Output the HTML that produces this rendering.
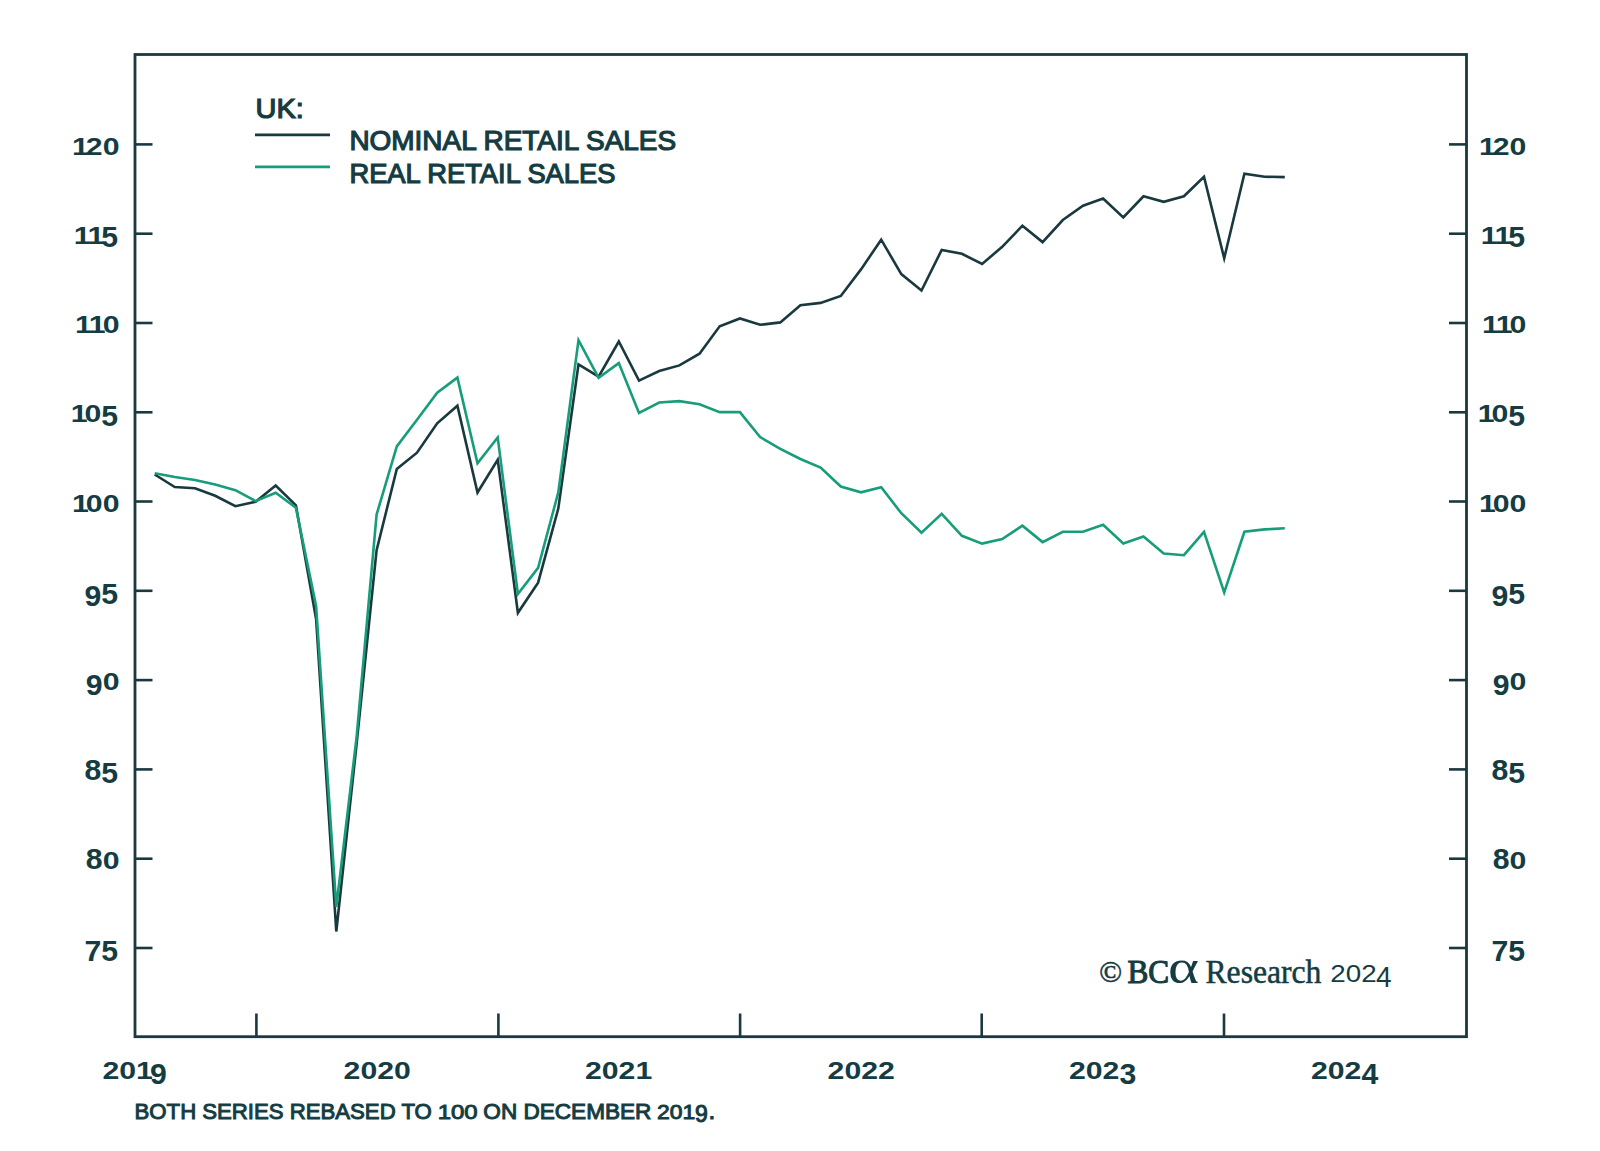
<!DOCTYPE html>
<html><head><meta charset="utf-8"><title>UK retail sales</title><style>
html,body{margin:0;padding:0;background:#fff;overflow:hidden;}
svg{display:block;}
</style></head><body>
<svg width="1600" height="1151" viewBox="0 0 1600 1151">
<text transform="matrix(0.9652 0 0 0.9500 255.57 118.05)" style="font-family:'Liberation Sans',sans-serif;font-size:30px;stroke:#143c42;stroke-width:1.3;fill:#143c42">UK:</text>
<text transform="matrix(0.9320 0 0 0.9455 349.39 149.75)" style="font-family:'Liberation Sans',sans-serif;font-size:30px;stroke:#143c42;stroke-width:1.3;fill:#143c42">NOMINAL RETAIL SALES</text>
<text transform="matrix(0.9102 0 0 0.9250 349.43 182.82)" style="font-family:'Liberation Sans',sans-serif;font-size:30px;stroke:#143c42;stroke-width:1.3;fill:#143c42">REAL RETAIL SALES</text>
<text transform="matrix(1.0078 0 0 1.0400 134.59 1119.20)" style="font-family:'Liberation Sans',sans-serif;font-size:22px;stroke:#143c42;stroke-width:1.0;fill:#143c42">BOTH SERIES REBASED TO</text>
<text transform="matrix(1.0900 0 0 0.9133 437.66 1119.20)" style="font-family:'Liberation Sans',sans-serif;font-size:22px;stroke:#143c42;stroke-width:1.0;fill:#143c42">100</text>
<text transform="matrix(1.0259 0 0 1.0400 483.37 1119.20)" style="font-family:'Liberation Sans',sans-serif;font-size:22px;stroke:#143c42;stroke-width:1.0;fill:#143c42">ON DECEMBER</text>
<text transform="matrix(1.0400 0 0 0.9133 657.06 1119.20)" style="font-family:'Liberation Sans',sans-serif;font-size:22px;stroke:#143c42;stroke-width:1.0;fill:#143c42">201</text>
<text transform="matrix(1.0455 0 0 1.0500 694.95 1121.75)" style="font-family:'Liberation Sans',sans-serif;font-size:22px;stroke:#143c42;stroke-width:1.0;fill:#143c42">9</text>
<text transform="matrix(1.1000 0 0 1.0667 708.40 1119.20)" style="font-family:'Liberation Sans',sans-serif;font-size:22px;stroke:#143c42;stroke-width:1.0;fill:#143c42">.</text>
<text transform="matrix(1.0000 0 0 1.0125 1099.25 981.50)" style="font-family:'Liberation Serif',serif;font-size:30px;stroke:#143c42;stroke-width:0.6;fill:#143c42">©</text>
<text transform="matrix(0.9750 0 0 1.0595 1127.53 982.50)" style="font-family:'Liberation Serif',serif;font-size:32px;stroke:#143c42;stroke-width:1.1;fill:#143c42">BC</text>
<text transform="matrix(1.2857 0 0 1.0714 1167.93 983.00)" style="font-family:'Liberation Serif',serif;font-size:46px;fill:#143c42">α</text>
<text transform="matrix(0.9888 0 0 1.0227 1205.51 982.70)" style="font-family:'Liberation Serif',serif;font-size:32px;stroke:#143c42;stroke-width:0.5;fill:#143c42">Research</text>
<text transform="matrix(1.1579 0 0 1.0147 1330.34 982.25)" style="font-family:'Liberation Sans',sans-serif;font-size:24px;fill:#143c42">202</text>
<text transform="matrix(1.1667 0 0 1.2353 1376.08 987.00)" style="font-family:'Liberation Sans',sans-serif;font-size:24px;fill:#143c42">4</text>
<rect x="135" y="54.5" width="1331.5" height="982.2" fill="none" stroke="#19393e" stroke-width="2.8"/>
<line x1="135" y1="948.0" x2="152.5" y2="948.0" stroke="#19393e" stroke-width="2.6"/>
<line x1="1449" y1="948.0" x2="1466.5" y2="948.0" stroke="#19393e" stroke-width="2.6"/>
<text transform="matrix(1.26 0 0 1.2294 84.56 961.46)" style="font-family:'Liberation Sans',sans-serif;font-weight:bold;font-size:24px;fill:#143c42">7</text><text transform="matrix(1.26 0 0 1.2294 101.37 961.46)" style="font-family:'Liberation Sans',sans-serif;font-weight:bold;font-size:24px;fill:#143c42">5</text>
<text transform="matrix(1.26 0 0 1.2294 1491.51 961.46)" style="font-family:'Liberation Sans',sans-serif;font-weight:bold;font-size:24px;fill:#143c42">7</text><text transform="matrix(1.26 0 0 1.2294 1508.32 961.46)" style="font-family:'Liberation Sans',sans-serif;font-weight:bold;font-size:24px;fill:#143c42">5</text>
<line x1="135" y1="858.7" x2="152.5" y2="858.7" stroke="#19393e" stroke-width="2.6"/>
<line x1="1449" y1="858.7" x2="1466.5" y2="858.7" stroke="#19393e" stroke-width="2.6"/>
<text transform="matrix(1.26 0 0 1.2647 85.82 868.78)" style="font-family:'Liberation Sans',sans-serif;font-weight:bold;font-size:24px;fill:#143c42">8</text><text transform="matrix(1.26 0 0 0.9882 102.63 868.78)" style="font-family:'Liberation Sans',sans-serif;font-weight:bold;font-size:24px;fill:#143c42">0</text>
<text transform="matrix(1.26 0 0 1.2647 1492.77 868.78)" style="font-family:'Liberation Sans',sans-serif;font-weight:bold;font-size:24px;fill:#143c42">8</text><text transform="matrix(1.26 0 0 0.9882 1509.58 868.78)" style="font-family:'Liberation Sans',sans-serif;font-weight:bold;font-size:24px;fill:#143c42">0</text>
<line x1="135" y1="769.4" x2="152.5" y2="769.4" stroke="#19393e" stroke-width="2.6"/>
<line x1="1449" y1="769.4" x2="1466.5" y2="769.4" stroke="#19393e" stroke-width="2.6"/>
<text transform="matrix(1.26 0 0 1.2647 84.56 779.50)" style="font-family:'Liberation Sans',sans-serif;font-weight:bold;font-size:24px;fill:#143c42">8</text><text transform="matrix(1.26 0 0 1.2294 101.37 782.89)" style="font-family:'Liberation Sans',sans-serif;font-weight:bold;font-size:24px;fill:#143c42">5</text>
<text transform="matrix(1.26 0 0 1.2647 1491.51 779.50)" style="font-family:'Liberation Sans',sans-serif;font-weight:bold;font-size:24px;fill:#143c42">8</text><text transform="matrix(1.26 0 0 1.2294 1508.32 782.89)" style="font-family:'Liberation Sans',sans-serif;font-weight:bold;font-size:24px;fill:#143c42">5</text>
<line x1="135" y1="680.1" x2="152.5" y2="680.1" stroke="#19393e" stroke-width="2.6"/>
<line x1="1449" y1="680.1" x2="1466.5" y2="680.1" stroke="#19393e" stroke-width="2.6"/>
<text transform="matrix(1.26 0 0 1.2118 85.82 694.81)" style="font-family:'Liberation Sans',sans-serif;font-weight:bold;font-size:24px;fill:#143c42">9</text><text transform="matrix(1.26 0 0 0.9882 102.63 690.21)" style="font-family:'Liberation Sans',sans-serif;font-weight:bold;font-size:24px;fill:#143c42">0</text>
<text transform="matrix(1.26 0 0 1.2118 1492.77 694.81)" style="font-family:'Liberation Sans',sans-serif;font-weight:bold;font-size:24px;fill:#143c42">9</text><text transform="matrix(1.26 0 0 0.9882 1509.58 690.21)" style="font-family:'Liberation Sans',sans-serif;font-weight:bold;font-size:24px;fill:#143c42">0</text>
<line x1="135" y1="590.8" x2="152.5" y2="590.8" stroke="#19393e" stroke-width="2.6"/>
<line x1="1449" y1="590.8" x2="1466.5" y2="590.8" stroke="#19393e" stroke-width="2.6"/>
<text transform="matrix(1.26 0 0 1.2118 84.56 605.52)" style="font-family:'Liberation Sans',sans-serif;font-weight:bold;font-size:24px;fill:#143c42">9</text><text transform="matrix(1.26 0 0 1.2294 101.37 604.32)" style="font-family:'Liberation Sans',sans-serif;font-weight:bold;font-size:24px;fill:#143c42">5</text>
<text transform="matrix(1.26 0 0 1.2118 1491.51 605.52)" style="font-family:'Liberation Sans',sans-serif;font-weight:bold;font-size:24px;fill:#143c42">9</text><text transform="matrix(1.26 0 0 1.2294 1508.32 604.32)" style="font-family:'Liberation Sans',sans-serif;font-weight:bold;font-size:24px;fill:#143c42">5</text>
<line x1="135" y1="501.5" x2="152.5" y2="501.5" stroke="#19393e" stroke-width="2.6"/>
<line x1="1449" y1="501.5" x2="1466.5" y2="501.5" stroke="#19393e" stroke-width="2.6"/>
<text transform="matrix(1.26 0 0 0.9882 72.01 511.64)" style="font-family:'Liberation Sans',sans-serif;font-weight:bold;font-size:24px;fill:#143c42">1</text><text transform="matrix(1.26 0 0 0.9882 85.82 511.64)" style="font-family:'Liberation Sans',sans-serif;font-weight:bold;font-size:24px;fill:#143c42">0</text><text transform="matrix(1.26 0 0 0.9882 102.63 511.64)" style="font-family:'Liberation Sans',sans-serif;font-weight:bold;font-size:24px;fill:#143c42">0</text>
<text transform="matrix(1.26 0 0 0.9882 1478.96 511.64)" style="font-family:'Liberation Sans',sans-serif;font-weight:bold;font-size:24px;fill:#143c42">1</text><text transform="matrix(1.26 0 0 0.9882 1492.77 511.64)" style="font-family:'Liberation Sans',sans-serif;font-weight:bold;font-size:24px;fill:#143c42">0</text><text transform="matrix(1.26 0 0 0.9882 1509.58 511.64)" style="font-family:'Liberation Sans',sans-serif;font-weight:bold;font-size:24px;fill:#143c42">0</text>
<line x1="135" y1="412.3" x2="152.5" y2="412.3" stroke="#19393e" stroke-width="2.6"/>
<line x1="1449" y1="412.3" x2="1466.5" y2="412.3" stroke="#19393e" stroke-width="2.6"/>
<text transform="matrix(1.26 0 0 0.9882 70.75 422.36)" style="font-family:'Liberation Sans',sans-serif;font-weight:bold;font-size:24px;fill:#143c42">1</text><text transform="matrix(1.26 0 0 0.9882 84.56 422.36)" style="font-family:'Liberation Sans',sans-serif;font-weight:bold;font-size:24px;fill:#143c42">0</text><text transform="matrix(1.26 0 0 1.2294 101.37 425.75)" style="font-family:'Liberation Sans',sans-serif;font-weight:bold;font-size:24px;fill:#143c42">5</text>
<text transform="matrix(1.26 0 0 0.9882 1477.70 422.36)" style="font-family:'Liberation Sans',sans-serif;font-weight:bold;font-size:24px;fill:#143c42">1</text><text transform="matrix(1.26 0 0 0.9882 1491.51 422.36)" style="font-family:'Liberation Sans',sans-serif;font-weight:bold;font-size:24px;fill:#143c42">0</text><text transform="matrix(1.26 0 0 1.2294 1508.32 425.75)" style="font-family:'Liberation Sans',sans-serif;font-weight:bold;font-size:24px;fill:#143c42">5</text>
<line x1="135" y1="323.0" x2="152.5" y2="323.0" stroke="#19393e" stroke-width="2.6"/>
<line x1="1449" y1="323.0" x2="1466.5" y2="323.0" stroke="#19393e" stroke-width="2.6"/>
<text transform="matrix(1.26 0 0 0.9882 75.01 333.07)" style="font-family:'Liberation Sans',sans-serif;font-weight:bold;font-size:24px;fill:#143c42">1</text><text transform="matrix(1.26 0 0 0.9882 88.82 333.07)" style="font-family:'Liberation Sans',sans-serif;font-weight:bold;font-size:24px;fill:#143c42">1</text><text transform="matrix(1.26 0 0 0.9882 102.63 333.07)" style="font-family:'Liberation Sans',sans-serif;font-weight:bold;font-size:24px;fill:#143c42">0</text>
<text transform="matrix(1.26 0 0 0.9882 1481.96 333.07)" style="font-family:'Liberation Sans',sans-serif;font-weight:bold;font-size:24px;fill:#143c42">1</text><text transform="matrix(1.26 0 0 0.9882 1495.77 333.07)" style="font-family:'Liberation Sans',sans-serif;font-weight:bold;font-size:24px;fill:#143c42">1</text><text transform="matrix(1.26 0 0 0.9882 1509.58 333.07)" style="font-family:'Liberation Sans',sans-serif;font-weight:bold;font-size:24px;fill:#143c42">0</text>
<line x1="135" y1="233.7" x2="152.5" y2="233.7" stroke="#19393e" stroke-width="2.6"/>
<line x1="1449" y1="233.7" x2="1466.5" y2="233.7" stroke="#19393e" stroke-width="2.6"/>
<text transform="matrix(1.26 0 0 0.9882 73.75 243.78)" style="font-family:'Liberation Sans',sans-serif;font-weight:bold;font-size:24px;fill:#143c42">1</text><text transform="matrix(1.26 0 0 0.9882 87.56 243.78)" style="font-family:'Liberation Sans',sans-serif;font-weight:bold;font-size:24px;fill:#143c42">1</text><text transform="matrix(1.26 0 0 1.2294 101.37 247.19)" style="font-family:'Liberation Sans',sans-serif;font-weight:bold;font-size:24px;fill:#143c42">5</text>
<text transform="matrix(1.26 0 0 0.9882 1480.70 243.78)" style="font-family:'Liberation Sans',sans-serif;font-weight:bold;font-size:24px;fill:#143c42">1</text><text transform="matrix(1.26 0 0 0.9882 1494.51 243.78)" style="font-family:'Liberation Sans',sans-serif;font-weight:bold;font-size:24px;fill:#143c42">1</text><text transform="matrix(1.26 0 0 1.2294 1508.32 247.19)" style="font-family:'Liberation Sans',sans-serif;font-weight:bold;font-size:24px;fill:#143c42">5</text>
<line x1="135" y1="144.4" x2="152.5" y2="144.4" stroke="#19393e" stroke-width="2.6"/>
<line x1="1449" y1="144.4" x2="1466.5" y2="144.4" stroke="#19393e" stroke-width="2.6"/>
<text transform="matrix(1.26 0 0 0.9882 72.01 154.50)" style="font-family:'Liberation Sans',sans-serif;font-weight:bold;font-size:24px;fill:#143c42">1</text><text transform="matrix(1.26 0 0 0.9882 85.82 154.50)" style="font-family:'Liberation Sans',sans-serif;font-weight:bold;font-size:24px;fill:#143c42">2</text><text transform="matrix(1.26 0 0 0.9882 102.63 154.50)" style="font-family:'Liberation Sans',sans-serif;font-weight:bold;font-size:24px;fill:#143c42">0</text>
<text transform="matrix(1.26 0 0 0.9882 1478.96 154.50)" style="font-family:'Liberation Sans',sans-serif;font-weight:bold;font-size:24px;fill:#143c42">1</text><text transform="matrix(1.26 0 0 0.9882 1492.77 154.50)" style="font-family:'Liberation Sans',sans-serif;font-weight:bold;font-size:24px;fill:#143c42">2</text><text transform="matrix(1.26 0 0 0.9882 1509.58 154.50)" style="font-family:'Liberation Sans',sans-serif;font-weight:bold;font-size:24px;fill:#143c42">0</text>
<line x1="256.4" y1="1013.5" x2="256.4" y2="1036.7" stroke="#19393e" stroke-width="2.6"/>
<line x1="498.4" y1="1013.5" x2="498.4" y2="1036.7" stroke="#19393e" stroke-width="2.6"/>
<line x1="740.1" y1="1013.5" x2="740.1" y2="1036.7" stroke="#19393e" stroke-width="2.6"/>
<line x1="981.7" y1="1013.5" x2="981.7" y2="1036.7" stroke="#19393e" stroke-width="2.6"/>
<line x1="1224" y1="1013.5" x2="1224" y2="1036.7" stroke="#19393e" stroke-width="2.6"/>
<text transform="matrix(1.26 0 0 1.0235 102.47 1079.00)" style="font-family:'Liberation Sans',sans-serif;font-weight:bold;font-size:24px;fill:#143c42">2</text><text transform="matrix(1.26 0 0 1.0235 119.28 1079.00)" style="font-family:'Liberation Sans',sans-serif;font-weight:bold;font-size:24px;fill:#143c42">0</text><text transform="matrix(1.26 0 0 1.0235 136.08 1079.00)" style="font-family:'Liberation Sans',sans-serif;font-weight:bold;font-size:24px;fill:#143c42">1</text><text transform="matrix(1.26 0 0 1.2471 149.89 1083.60)" style="font-family:'Liberation Sans',sans-serif;font-weight:bold;font-size:24px;fill:#143c42">9</text>
<text transform="matrix(1.26 0 0 1.0235 343.60 1079.00)" style="font-family:'Liberation Sans',sans-serif;font-weight:bold;font-size:24px;fill:#143c42">2</text><text transform="matrix(1.26 0 0 1.0235 360.41 1079.00)" style="font-family:'Liberation Sans',sans-serif;font-weight:bold;font-size:24px;fill:#143c42">0</text><text transform="matrix(1.26 0 0 1.0235 377.21 1079.00)" style="font-family:'Liberation Sans',sans-serif;font-weight:bold;font-size:24px;fill:#143c42">2</text><text transform="matrix(1.26 0 0 1.0235 394.02 1079.00)" style="font-family:'Liberation Sans',sans-serif;font-weight:bold;font-size:24px;fill:#143c42">0</text>
<text transform="matrix(1.26 0 0 1.0235 584.97 1079.00)" style="font-family:'Liberation Sans',sans-serif;font-weight:bold;font-size:24px;fill:#143c42">2</text><text transform="matrix(1.26 0 0 1.0235 601.78 1079.00)" style="font-family:'Liberation Sans',sans-serif;font-weight:bold;font-size:24px;fill:#143c42">0</text><text transform="matrix(1.26 0 0 1.0235 618.58 1079.00)" style="font-family:'Liberation Sans',sans-serif;font-weight:bold;font-size:24px;fill:#143c42">2</text><text transform="matrix(1.26 0 0 1.0235 635.39 1079.00)" style="font-family:'Liberation Sans',sans-serif;font-weight:bold;font-size:24px;fill:#143c42">1</text>
<text transform="matrix(1.26 0 0 1.0235 827.60 1079.00)" style="font-family:'Liberation Sans',sans-serif;font-weight:bold;font-size:24px;fill:#143c42">2</text><text transform="matrix(1.26 0 0 1.0235 844.41 1079.00)" style="font-family:'Liberation Sans',sans-serif;font-weight:bold;font-size:24px;fill:#143c42">0</text><text transform="matrix(1.26 0 0 1.0235 861.21 1079.00)" style="font-family:'Liberation Sans',sans-serif;font-weight:bold;font-size:24px;fill:#143c42">2</text><text transform="matrix(1.26 0 0 1.0235 878.02 1079.00)" style="font-family:'Liberation Sans',sans-serif;font-weight:bold;font-size:24px;fill:#143c42">2</text>
<text transform="matrix(1.26 0 0 1.0235 1068.97 1079.00)" style="font-family:'Liberation Sans',sans-serif;font-weight:bold;font-size:24px;fill:#143c42">2</text><text transform="matrix(1.26 0 0 1.0235 1085.78 1079.00)" style="font-family:'Liberation Sans',sans-serif;font-weight:bold;font-size:24px;fill:#143c42">0</text><text transform="matrix(1.26 0 0 1.0235 1102.58 1079.00)" style="font-family:'Liberation Sans',sans-serif;font-weight:bold;font-size:24px;fill:#143c42">2</text><text transform="matrix(1.26 0 0 1.2471 1119.39 1083.60)" style="font-family:'Liberation Sans',sans-serif;font-weight:bold;font-size:24px;fill:#143c42">3</text>
<text transform="matrix(1.26 0 0 1.0235 1310.97 1079.00)" style="font-family:'Liberation Sans',sans-serif;font-weight:bold;font-size:24px;fill:#143c42">2</text><text transform="matrix(1.26 0 0 1.0235 1327.78 1079.00)" style="font-family:'Liberation Sans',sans-serif;font-weight:bold;font-size:24px;fill:#143c42">0</text><text transform="matrix(1.26 0 0 1.0235 1344.58 1079.00)" style="font-family:'Liberation Sans',sans-serif;font-weight:bold;font-size:24px;fill:#143c42">2</text><text transform="matrix(1.26 0 0 1.2471 1361.39 1083.60)" style="font-family:'Liberation Sans',sans-serif;font-weight:bold;font-size:24px;fill:#143c42">4</text>
<polyline points="154.7,474.5 174.8,487.0 195.0,488.3 215.2,495.8 235.4,506.2 255.6,501.7 275.7,485.6 295.9,505.3 316.1,619.0 336.3,931.5 356.5,745.0 376.6,550.1 396.8,469.0 417.0,452.7 437.2,423.3 457.4,405.7 477.5,492.5 497.7,459.7 517.9,612.8 538.1,582.6 558.3,508.6 578.5,364.4 598.6,376.6 618.8,341.5 639.0,380.6 659.2,371.0 679.4,365.4 699.5,353.7 719.7,326.3 739.9,318.5 760.1,324.8 780.3,322.4 800.4,305.2 820.6,302.9 840.8,296.0 861.0,269.4 881.2,239.7 901.3,274.1 921.5,290.5 941.7,249.9 961.9,253.8 982.1,264.0 1002.2,246.8 1022.4,225.7 1042.6,242.1 1062.8,220.0 1083.0,205.7 1103.1,198.6 1123.3,217.4 1143.5,196.3 1163.7,201.8 1183.9,196.3 1204.0,176.7 1224.2,258.3 1244.4,173.6 1264.6,176.7 1284.8,177.1" fill="none" stroke="#19393e" stroke-width="2.6" stroke-linejoin="miter" stroke-miterlimit="6"/>
<polyline points="154.7,473.3 174.8,477.0 195.0,480.0 215.2,484.5 235.4,490.2 255.6,501.1 275.7,492.8 295.9,507.7 316.1,606.0 336.3,907.0 356.5,738.0 376.6,514.6 396.8,446.4 417.0,419.8 437.2,392.8 457.4,377.6 477.5,463.2 497.7,437.4 517.9,594.0 538.1,567.8 558.3,492.4 578.5,340.2 598.6,377.9 618.8,363.1 639.0,412.9 659.2,402.5 679.4,401.1 699.5,404.2 719.7,412.1 739.9,412.1 760.1,437.1 780.3,448.8 800.4,459.0 820.6,467.6 840.8,486.5 861.0,492.3 881.2,487.3 901.3,513.2 921.5,532.7 941.7,513.9 961.9,535.8 982.1,543.6 1002.2,539.0 1022.4,525.7 1042.6,542.1 1062.8,531.8 1083.0,531.8 1103.1,524.7 1123.3,543.5 1143.5,536.4 1163.7,553.6 1183.9,555.2 1204.0,531.8 1224.2,592.5 1244.4,531.8 1264.6,529.4 1284.8,528.2" fill="none" stroke="#189d7a" stroke-width="2.6" stroke-linejoin="miter" stroke-miterlimit="6"/>
<line x1="255" y1="134.8" x2="330" y2="134.8" stroke="#19393e" stroke-width="2.8"/>
<line x1="255" y1="166.8" x2="330" y2="166.8" stroke="#189d7a" stroke-width="2.8"/>
</svg>
</body></html>
